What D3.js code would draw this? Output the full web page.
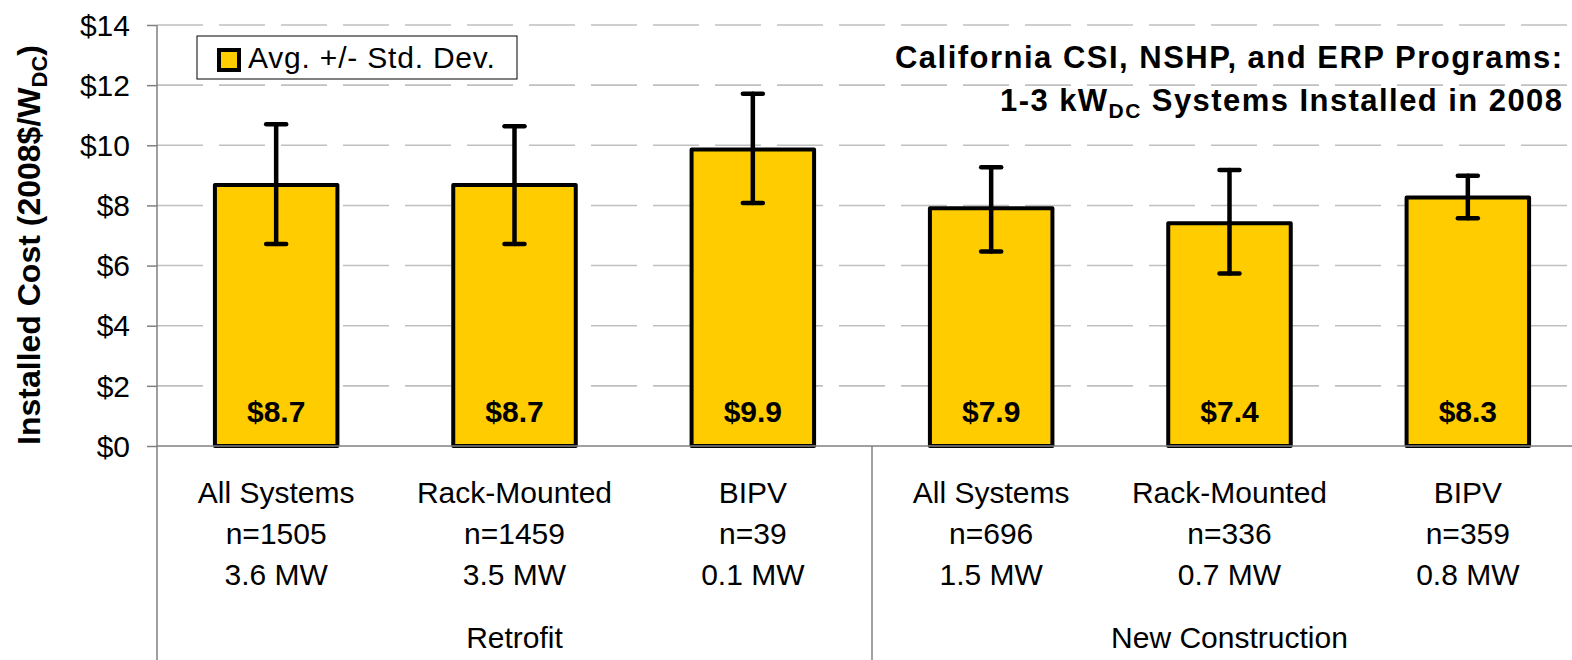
<!DOCTYPE html>
<html>
<head>
<meta charset="utf-8">
<script src="https://cdn.jsdelivr.net/npm/d3@7"></script>
<style>
  html, body { margin: 0; padding: 0; background: #fff; }
  svg { display: block; font-family: "Liberation Sans", Arial, sans-serif; }
</style>
</head>
<body>
<svg id="chart" width="1572" height="660"></svg>
<script>
// ---- data ----
const categories = ["All Systems", "Rack-Mounted", "BIPV", "All Systems", "Rack-Mounted", "BIPV"];
const counts = ["n=1505", "n=1459", "n=39", "n=696", "n=336", "n=359"];
const capacities = ["3.6 MW", "3.5 MW", "0.1 MW", "1.5 MW", "0.7 MW", "0.8 MW"];
const groups = ["Retrofit", "New Construction"];
const groupSizes = [3, 3];
const avgCost = [8.68, 8.68, 9.86, 7.91, 7.41, 8.26];
const stdHigh = [10.70, 10.63, 11.71, 9.27, 9.18, 8.99];
const stdLow = [6.72, 6.72, 8.08, 6.47, 5.74, 7.57];
const yTicks = [0, 2, 4, 6, 8, 10, 12, 14];

// ---- layout ----
const svg = d3.select("#chart");
const pLeft = 157, pRight = 1587, pTop = 25, pBottom = 446;
const idx = d3.range(categories.length);

const x = d3.scaleBand().domain(idx).range([pLeft, pRight]).paddingInner(0.486).paddingOuter(0.243);
const xGroup = d3.scaleLinear().domain([0, categories.length]).range([pLeft, pRight]);
const y = d3.scaleLinear().domain([0, 14]).range([pBottom, pTop]);

// gridlines
svg.append("g").selectAll("line").data(yTicks.filter(t => t > 0)).join("line")
  .attr("x1", pLeft).attr("x2", 1572)
  .attr("y1", d => y(d)).attr("y2", d => y(d))
  .attr("stroke", "#c0c0c0").attr("stroke-width", 1.6)
  .attr("stroke-dasharray", "46,16");

// y axis
const yAxis = d3.axisLeft(y).tickValues(yTicks).tickSize(10).tickPadding(17)
  .tickFormat(d => "$" + d);
const gy = svg.append("g").attr("transform", `translate(${pLeft},0)`).call(yAxis);
gy.select(".domain").remove();
gy.selectAll(".tick line").attr("stroke", "#808080").attr("stroke-width", 1.5);
gy.selectAll(".tick text").attr("font-size", 30).attr("fill", "#000")
  .attr("font-family", "Liberation Sans, Arial, sans-serif").attr("dy", "0.34em");

// axis lines
svg.append("line").attr("x1", pLeft).attr("x2", pLeft).attr("y1", pTop).attr("y2", 660)
  .attr("stroke", "#808080").attr("stroke-width", 1.5);

// bars
svg.append("g").selectAll("rect").data(idx).join("rect")
  .attr("x", i => x(i)).attr("width", x.bandwidth())
  .attr("y", i => y(avgCost[i])).attr("height", i => y(0) - y(avgCost[i]))
  .attr("fill", "#ffcc00").attr("stroke", "#000").attr("stroke-width", 4)
  .attr("stroke-linejoin", "round");

// x axis line
svg.append("line").attr("x1", pLeft).attr("x2", 1572).attr("y1", pBottom).attr("y2", pBottom)
  .attr("stroke", "#808080").attr("stroke-width", 1.5);

// group divider(s)
let acc = 0;
const dividers = [];
groupSizes.forEach((s, gi) => { acc += s; if (gi < groupSizes.length - 1) dividers.push(acc); });
svg.append("g").selectAll("line").data(dividers).join("line")
  .attr("x1", d => xGroup(d)).attr("x2", d => xGroup(d))
  .attr("y1", pBottom).attr("y2", 660)
  .attr("stroke", "#808080").attr("stroke-width", 1.5);

// error bars
const cx = i => x(i) + x.bandwidth() / 2;
const eb = svg.append("g").attr("stroke", "#000").attr("stroke-width", 4.5).attr("stroke-linecap", "round");
eb.selectAll("line.v").data(idx).join("line").attr("class", "v")
  .attr("x1", cx).attr("x2", cx).attr("y1", i => y(stdHigh[i])).attr("y2", i => y(stdLow[i]));
eb.selectAll("line.hi").data(idx).join("line").attr("class", "hi")
  .attr("x1", i => cx(i) - 10).attr("x2", i => cx(i) + 10)
  .attr("y1", i => y(stdHigh[i])).attr("y2", i => y(stdHigh[i]));
eb.selectAll("line.lo").data(idx).join("line").attr("class", "lo")
  .attr("x1", i => cx(i) - 10).attr("x2", i => cx(i) + 10)
  .attr("y1", i => y(stdLow[i])).attr("y2", i => y(stdLow[i]));

// value labels
svg.append("g").selectAll("text").data(idx).join("text")
  .attr("x", cx).attr("y", pBottom - 24)
  .attr("text-anchor", "middle").attr("font-size", 30).attr("font-weight", "bold")
  .text(i => "$" + avgCost[i].toFixed(1));

// category labels
const cl = svg.append("g").attr("font-size", 30).attr("text-anchor", "middle");
[categories, counts, capacities].forEach((arr, li) => {
  cl.append("g").selectAll("text").data(idx).join("text")
    .attr("x", cx).attr("y", 503 + li * 41).text(i => arr[i]);
});

// group labels
let start = 0;
groups.forEach((g, gi) => {
  const mid = start + groupSizes[gi] / 2;
  svg.append("text").attr("x", xGroup(mid)).attr("y", 648)
    .attr("text-anchor", "middle").attr("font-size", 30).text(g);
  start += groupSizes[gi];
});

// y axis title
const yt = svg.append("text").attr("transform", "translate(40,245) rotate(-90)")
  .attr("text-anchor", "middle").attr("font-size", 32).attr("font-weight", "bold");
yt.append("tspan").text("Installed Cost (2008$/W");
yt.append("tspan").attr("font-size", 22).attr("dy", 7).text("DC");
yt.append("tspan").attr("dy", -7).text(")");

// legend
const lg = svg.append("g");
lg.append("rect").attr("x", 197).attr("y", 36).attr("width", 320).attr("height", 43)
  .attr("fill", "#fff").attr("stroke", "#000").attr("stroke-width", 1);
lg.append("rect").attr("x", 219).attr("y", 50).attr("width", 20).attr("height", 20)
  .attr("fill", "#ffcc00").attr("stroke", "#000").attr("stroke-width", 4);
lg.append("text").attr("x", 248).attr("y", 68).attr("font-size", 30)
  .attr("letter-spacing", "0.8px").text("Avg. +/- Std. Dev.");

// title
const t1 = svg.append("text").attr("x", 1562).attr("y", 68).attr("text-anchor", "end")
  .attr("font-size", 31).attr("font-weight", "bold")
  .attr("textLength", 667).attr("lengthAdjust", "spacing")
  .text("California CSI, NSHP, and ERP Programs:");
const t2 = svg.append("text").attr("x", 1562).attr("y", 111).attr("text-anchor", "end")
  .attr("font-size", 31).attr("font-weight", "bold")
  .attr("textLength", 562).attr("lengthAdjust", "spacing");
t2.append("tspan").text("1-3 kW");
t2.append("tspan").attr("font-size", 21).attr("dy", 7).text("DC");
t2.append("tspan").attr("dy", -7).text(" Systems Installed in 2008");
</script>
</body>
</html>
